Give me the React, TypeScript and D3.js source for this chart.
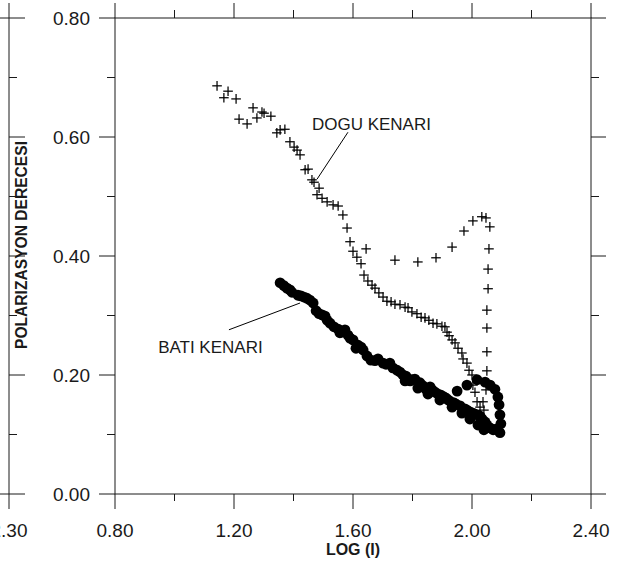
import React from "react";
import * as d3 from "d3";

// DOGU KENARI (crosses) – [log(I), polarization]
const doguX = [1.143,1.180,1.166,1.207,1.217,1.244,1.264,1.294,1.277,1.301,1.324,1.355,1.344,1.371,1.388,1.402,1.412,1.422,1.439,1.449,1.462,1.469,1.486,1.479,1.496,1.513,1.533,1.550,1.566,1.580,1.590,1.600,1.613,1.627,1.637,1.650,1.664,1.674,1.687,1.701,1.714,1.728,1.741,1.758,1.775,1.785,1.798,1.815,1.829,1.842,1.855,1.869,1.882,1.899,1.909,1.916,1.923,1.933,1.943,1.953,1.966,1.970,1.983,1.990,2.000,2.003,2.010,2.017,2.027,2.040,2.037,2.047,2.050,2.050,2.050,2.050,2.054,2.054,2.057,2.060,2.047,2.033,2.003,1.973,1.933,1.879,1.818,1.741,1.644];
const doguY = [0.686,0.677,0.666,0.664,0.630,0.622,0.649,0.642,0.632,0.640,0.635,0.612,0.607,0.613,0.592,0.583,0.578,0.570,0.545,0.546,0.528,0.524,0.514,0.503,0.497,0.491,0.486,0.484,0.469,0.447,0.424,0.408,0.398,0.387,0.368,0.358,0.351,0.346,0.338,0.331,0.324,0.323,0.319,0.318,0.314,0.313,0.306,0.303,0.297,0.296,0.292,0.287,0.286,0.282,0.281,0.272,0.266,0.259,0.254,0.245,0.237,0.227,0.220,0.208,0.200,0.183,0.171,0.155,0.146,0.141,0.155,0.175,0.207,0.239,0.279,0.309,0.345,0.378,0.412,0.449,0.464,0.466,0.459,0.442,0.415,0.397,0.390,0.393,0.412];

// BATI KENARI (filled circles)
const batiX = [1.355,1.368,1.378,1.388,1.395,1.415,1.425,1.435,1.445,1.455,1.466,1.476,1.486,1.496,1.506,1.513,1.523,1.536,1.550,1.560,1.573,1.583,1.590,1.600,1.617,1.627,1.634,1.647,1.660,1.674,1.684,1.701,1.711,1.724,1.734,1.748,1.758,1.768,1.778,1.792,1.798,1.808,1.825,1.835,1.845,1.859,1.866,1.876,1.886,1.896,1.906,1.913,1.920,1.929,1.940,1.946,1.960,1.976,1.983,1.993,2.003,2.010,2.020,2.027,2.034,2.044,2.050,2.061,2.071,2.081,2.094,2.097,2.094,2.091,2.087,2.077,2.061,2.044,2.017,1.983,1.950,1.556,1.610,1.775,1.818,1.852,1.892,1.933,1.966,1.993,2.020,2.040];
const batiY = [0.355,0.350,0.346,0.343,0.339,0.334,0.333,0.331,0.329,0.326,0.321,0.308,0.303,0.301,0.299,0.292,0.287,0.281,0.277,0.272,0.276,0.267,0.262,0.259,0.250,0.247,0.242,0.232,0.225,0.224,0.227,0.220,0.218,0.220,0.212,0.208,0.205,0.200,0.198,0.190,0.192,0.193,0.187,0.182,0.176,0.180,0.175,0.171,0.168,0.166,0.163,0.161,0.158,0.155,0.153,0.151,0.148,0.143,0.141,0.138,0.136,0.134,0.133,0.131,0.126,0.121,0.116,0.111,0.108,0.109,0.103,0.118,0.133,0.150,0.163,0.176,0.183,0.188,0.192,0.183,0.173,0.271,0.245,0.190,0.178,0.168,0.158,0.146,0.136,0.126,0.116,0.108];

const xMajor = [0.8, 1.2, 1.6, 2.0, 2.4];
const xMinor = [1.0, 1.4, 1.8, 2.2];
const yMajor = [0.0, 0.2, 0.4, 0.6, 0.8];
const yMinor = [0.1, 0.3, 0.5, 0.7];

const W = 619, H = 567;
const L = 115, R = 591, T = 18, B = 494;
const FONT = "'Liberation Sans', Arial, Helvetica, sans-serif";

export default function App() {
  const x = d3.scaleLinear().domain([0.8, 2.4]).range([L, R]);
  const y = d3.scaleLinear().domain([0, 0.8]).range([B, T]);
  const ghostX = 9;
  const ink = "#1a1a1a";
  const cs = 4.8;

  return (
    <svg width={W} height={H} style={{ position: "absolute", left: 0, top: 0, background: "#fff" }} fontFamily={FONT}>
      {/* ghost neighbouring axis at the left edge */}
      <g stroke={ink} strokeWidth={1}>
        <line x1={ghostX} x2={ghostX} y1={3} y2={509} />
        <line x1={0} x2={25} y1={y(0.8)} y2={y(0.8)} />
        <line x1={0} x2={25} y1={y(0)} y2={y(0)} />
        {yMajor.slice(1, 4).map((v) => (
          <line key={"gM" + v} x1={ghostX} x2={25} y1={y(v)} y2={y(v)} />
        ))}
        {yMinor.map((v) => (
          <line key={"gm" + v} x1={ghostX} x2={17} y1={y(v)} y2={y(v)} />
        ))}
      </g>
      <text x={ghostX} y={536.5} fontSize={19} textAnchor="middle" fill={ink}>2.30</text>

      {/* frame */}
      <rect x={L} y={T} width={R - L} height={B - T} fill="none" stroke={ink} strokeWidth={1} />
      <g stroke={ink} strokeWidth={1}>
        {xMajor.map((v) => (
          <g key={"xM" + v}>
            <line x1={x(v)} x2={x(v)} y1={B} y2={B + 15} />
            <line x1={x(v)} x2={x(v)} y1={T} y2={T - 15} />
          </g>
        ))}
        {xMinor.map((v) => (
          <g key={"xm" + v}>
            <line x1={x(v)} x2={x(v)} y1={B} y2={B + 7} />
            <line x1={x(v)} x2={x(v)} y1={T} y2={T - 8} />
          </g>
        ))}
        {yMajor.map((v) => (
          <g key={"yM" + v}>
            <line x1={L} x2={L - 16} y1={y(v)} y2={y(v)} />
            <line x1={R} x2={R + 15} y1={y(v)} y2={y(v)} />
          </g>
        ))}
        {yMinor.map((v) => (
          <g key={"ym" + v}>
            <line x1={L} x2={L - 8} y1={y(v)} y2={y(v)} />
            <line x1={R} x2={R + 8} y1={y(v)} y2={y(v)} />
          </g>
        ))}
      </g>

      {/* tick labels */}
      {xMajor.map((v) => (
        <text key={"xl" + v} x={x(v)} y={536.5} fontSize={19} textAnchor="middle" fill={ink}>
          {d3.format(".2f")(v)}
        </text>
      ))}
      {yMajor.map((v) => (
        <text key={"yl" + v} x={90} y={y(v) + 6.8} fontSize={19} textAnchor="end" fill={ink}>
          {d3.format(".2f")(v)}
        </text>
      ))}

      {/* axis titles */}
      <text x={(L + R) / 2} y={555} fontSize={16} fontWeight="bold" textAnchor="middle" fill={ink}>LOG (I)</text>
      <text transform={`translate(27,245) rotate(-90)`} fontSize={15.6} fontWeight="bold" textAnchor="middle" fill={ink}>
        POLARIZASYON DERECESI
      </text>

      {/* circles */}
      <g fill="#000">
        {batiX.map((v, i) => (
          <circle key={"c" + i} cx={x(v)} cy={y(batiY[i])} r={5.4} />
        ))}
      </g>

      {/* crosses */}
      <g stroke="#000" strokeWidth={1.25}>
        {doguX.map((v, i) => {
          const px = x(v), py = y(doguY[i]);
          return (
            <g key={"p" + i}>
              <line x1={px - cs} x2={px + cs} y1={py} y2={py} />
              <line x1={px} x2={px} y1={py - cs} y2={py + cs} />
            </g>
          );
        })}
      </g>

      {/* annotations */}
      <line x1={x(1.583)} y1={y(0.608)} x2={x(1.479)} y2={y(0.529)} stroke="#000" strokeWidth={1} />
      <text x={x(1.462)} y={y(0.612)} fontSize={17} fill={ink}>DOGU KENARI</text>
      <line x1={x(1.183)} y1={y(0.276)} x2={x(1.422)} y2={y(0.321)} stroke="#000" strokeWidth={1} />
      <text x={x(0.945)} y={y(0.237)} fontSize={17} fill={ink}>BATI KENARI</text>
    </svg>
  );
}
